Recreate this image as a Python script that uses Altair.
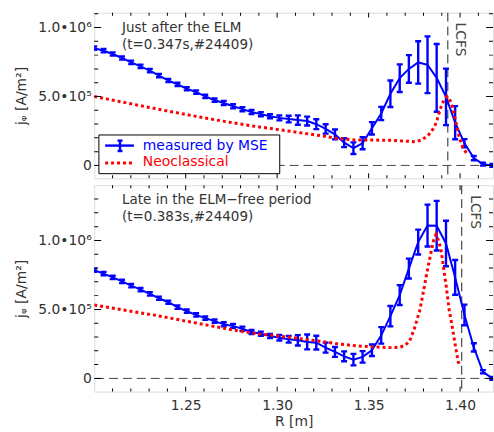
import altair as alt
import pandas as pd

# ---------------- data ----------------
R_MEAS = [1.2000, 1.2051, 1.2101, 1.2152, 1.2202, 1.2253, 1.2304, 1.2354, 1.2405, 1.2455,
          1.2506, 1.2557, 1.2607, 1.2658, 1.2708, 1.2759, 1.2810, 1.2860, 1.2911, 1.2961,
          1.3012, 1.3063, 1.3113, 1.3164, 1.3214, 1.3265, 1.3316, 1.3366, 1.3417, 1.3467,
          1.3518, 1.3569, 1.3619, 1.3670, 1.3720, 1.3771, 1.3822, 1.3872, 1.3923, 1.3973,
          1.4024, 1.4075, 1.4125, 1.4176]

# top panel (just after the ELM), units of 1e6 A/m^2
J_TOP = [0.851, 0.832, 0.808, 0.779, 0.748, 0.719, 0.688, 0.652, 0.616, 0.588,
         0.556, 0.532, 0.501, 0.473, 0.453, 0.429, 0.408, 0.388, 0.372, 0.357,
         0.345, 0.336, 0.329, 0.322, 0.299, 0.265, 0.225, 0.165, 0.125, 0.161,
         0.269, 0.377, 0.520, 0.633, 0.700, 0.747, 0.730, 0.635, 0.497, 0.310,
         0.161, 0.053, 0.009, 0.000]
ERR_TOP = [0.012, 0.012, 0.012, 0.012, 0.012, 0.012, 0.012, 0.012, 0.012, 0.012,
           0.012, 0.012, 0.012, 0.012, 0.015, 0.015, 0.015, 0.015, 0.015, 0.015,
           0.018, 0.024, 0.034, 0.032, 0.036, 0.034, 0.036, 0.032, 0.042, 0.044,
           0.045, 0.048, 0.096, 0.100, 0.100, 0.154, 0.206, 0.246, 0.205, 0.120,
           0.030, 0.015, 0.010, 0.010]

# bottom panel (late in the ELM-free period)
J_BOT = [0.784, 0.760, 0.732, 0.703, 0.672, 0.643, 0.612, 0.581, 0.552, 0.516,
         0.487, 0.460, 0.437, 0.415, 0.392, 0.379, 0.360, 0.336, 0.324, 0.307,
         0.295, 0.283, 0.276, 0.264, 0.259, 0.223, 0.192, 0.160, 0.136, 0.156,
         0.204, 0.312, 0.451, 0.604, 0.796, 0.988, 1.108, 1.107, 0.978, 0.732,
         0.460, 0.225, 0.048, 0.000]
ERR_BOT = [0.012, 0.012, 0.012, 0.012, 0.012, 0.012, 0.012, 0.012, 0.012, 0.012,
           0.012, 0.012, 0.012, 0.012, 0.015, 0.015, 0.015, 0.015, 0.015, 0.015,
           0.020, 0.024, 0.038, 0.054, 0.050, 0.036, 0.036, 0.036, 0.042, 0.042,
           0.042, 0.060, 0.074, 0.072, 0.072, 0.090, 0.152, 0.180, 0.165, 0.126,
           0.075, 0.030, 0.012, 0.010]

# neoclassical curves
R_NEO_TOP = [1.200, 1.220, 1.240, 1.260, 1.274, 1.286, 1.2965, 1.310, 1.3236, 1.3327,
             1.340, 1.3453, 1.353, 1.3616, 1.370, 1.376, 1.379, 1.3824, 1.3842, 1.386,
             1.3874, 1.3887, 1.390, 1.3914, 1.3928, 1.3946, 1.3959, 1.3978, 1.3996, 1.4015,
             1.404]
J_NEO_TOP = [0.500, 0.447, 0.395, 0.345, 0.313, 0.287, 0.268, 0.242, 0.216, 0.196,
             0.187, 0.184, 0.184, 0.182, 0.176, 0.172, 0.185, 0.216, 0.245, 0.280,
             0.330, 0.388, 0.440, 0.480, 0.500, 0.470, 0.420, 0.310, 0.200, 0.130,
             0.080]

R_NEO_BOT = [1.200, 1.234, 1.2738, 1.2875, 1.3056, 1.3236, 1.3345, 1.3435, 1.3526, 1.3616,
             1.367, 1.370, 1.3724, 1.375, 1.3779, 1.380, 1.3815, 1.383, 1.3842, 1.3855,
             1.3868, 1.3882, 1.3896, 1.391, 1.3924, 1.394, 1.3959, 1.3975, 1.399, 1.3998]
J_NEO_BOT = [0.532, 0.456, 0.356, 0.326, 0.300, 0.269, 0.248, 0.236, 0.228, 0.223,
             0.226, 0.240, 0.270, 0.360, 0.490, 0.630, 0.740, 0.840, 0.920, 1.000,
             1.043, 1.000, 0.930, 0.800, 0.670, 0.500, 0.360, 0.230, 0.120, 0.090]

LCFS = [1.3933, 1.4009]
X_DOMAIN = [1.2, 1.418]
Y_DOMAIN_TOP = [-0.0935e6, 1.108e6]
Y_DOMAIN_BOT = [-0.0957e6, 1.40e6]
X_TICKS = [1.21, 1.22, 1.23, 1.24, 1.25, 1.26, 1.27, 1.28, 1.29, 1.30,
           1.31, 1.32, 1.33, 1.34, 1.35, 1.36, 1.37, 1.38, 1.39, 1.40, 1.41]
X_LABELS = [1.25, 1.30, 1.35, 1.40]
Y_TICKS_TOP = [0, 1e5, 2e5, 3e5, 4e5, 5e5, 6e5, 7e5, 8e5, 9e5, 1e6, 1.1e6]
Y_TICKS_BOT = [0, 1e5, 2e5, 3e5, 4e5, 5e5, 6e5, 7e5, 8e5, 9e5, 1e6, 1.1e6, 1.2e6, 1.3e6]
Y_LABELS = [0, 5e5, 1e6]
TEXT_TOP = ["Just after the ELM", "(t=0.347s,#24409)"]
TEXT_BOT = ["Late in the ELM\u2212free period", "(t=0.383s,#24409)"]
LEGEND = ["measured by MSE", "Neoclassical"]

BLUE = "#0000ff"
RED = "#ff0000"
GREY = "#333333"
FONT = "DejaVu Sans"
W = 402


def panel(j, err, rn, jn, lcfs, ydom, yticks, h, texts, bottom, legend, lcfs_dy):
    xs = alt.Scale(domain=X_DOMAIN, nice=False, zero=False)
    ys = alt.Scale(domain=ydom, nice=False, zero=False)
    meas = pd.DataFrame({
        "R": R_MEAS,
        "j": [v * 1e6 for v in j],
        "lo": [(v - e) * 1e6 for v, e in zip(j, err)],
        "hi": [(v + e) * 1e6 for v, e in zip(j, err)],
    })
    neo = pd.DataFrame({"R": rn, "j": [v * 1e6 for v in jn]})

    if bottom:
        xax = alt.Axis(values=X_LABELS, format=".2f", ticks=False, domain=False, grid=False,
                       labelFontSize=14, labelColor=GREY, labelPadding=7, labelFont=FONT,
                       title="R [m]", titleFontSize=14, titleFontWeight="normal",
                       titleColor=GREY, titlePadding=2, titleFont=FONT)
    else:
        xax = None
    yax = alt.Axis(values=Y_LABELS,
                   labelExpr="datum.value == 0 ? '0' : (datum.value == 500000 ? '5.0\u202210\u2075' : '1.0\u202210\u2076')",
                   ticks=False, domain=False, grid=False, labelFontSize=14, labelColor=GREY,
                   labelPadding=3, labelFont=FONT,
                   title="j\u1d69 [A/m\u00b2]", titleFontSize=14, titleFontWeight="normal",
                   titleColor=GREY, titlePadding=9, titleFont=FONT)

    def X(f):
        return alt.X(f, scale=xs)

    def Y(f):
        return alt.Y(f, scale=ys)

    lc = pd.DataFrame({"r": [lcfs], "t": ["LCFS"]})
    lcfs_rule = alt.Chart(lc).mark_rule(color="#222222", strokeWidth=1,
                                        strokeDash=[9, 5]).encode(
        x=alt.X("r:Q", scale=xs, axis=xax))
    zero = alt.Chart(pd.DataFrame({"z": [0]})).mark_rule(
        color="#444444", strokeWidth=1, strokeDash=[9, 5]
    ).encode(y=alt.Y("z:Q", scale=ys, axis=yax))

    base = alt.Chart(meas)
    line = base.mark_line(color=BLUE, strokeWidth=2, clip=True).encode(
        x=X("R:Q"), y=Y("j:Q"))
    bars = base.mark_rule(color=BLUE, strokeWidth=2.4, clip=True).encode(
        x=X("R:Q"), y=Y("lo:Q"), y2="hi:Q")
    caps = base.transform_fold(["lo", "hi"], as_=["k", "v"]).mark_tick(
        color=BLUE, orient="horizontal", size=6, thickness=2.4, clip=True, opacity=1
    ).encode(x=X("R:Q"), y=Y("v:Q"))
    neo_line = alt.Chart(neo).mark_line(color=RED, strokeWidth=3, strokeDash=[3, 3],
                                        clip=True).encode(x=X("R:Q"), y=Y("j:Q"))
    lcfs_text = alt.Chart(lc).mark_text(angle=90, align="left", baseline="alphabetic",
                                        dy=lcfs_dy, fontSize=14, color="#444444",
                                        font=FONT).encode(
        x=X("r:Q"), y=alt.value(10), text="t:N")

    # inward ticks on all four sides
    xt = pd.DataFrame({"v": X_TICKS,
                       "s": [10 if v in X_LABELS else 6 for v in X_TICKS]})
    yt = pd.DataFrame({"v": yticks,
                       "s": [14 if v in Y_LABELS else 8 for v in yticks]})
    tick_layers = []
    for ypos in (0, h):
        tick_layers.append(alt.Chart(xt).mark_tick(color="black", thickness=1, clip=True,
                                                   orient="vertical", opacity=1).encode(
            x=X("v:Q"), y=alt.value(ypos),
            size=alt.Size("s:Q", scale=None, legend=None)))
    for xpos in (0, W):
        tick_layers.append(alt.Chart(yt).mark_tick(color="black", thickness=1, clip=True,
                                                   orient="horizontal", opacity=1).encode(
            y=Y("v:Q"), x=alt.value(xpos),
            size=alt.Size("s:Q", scale=None, legend=None)))

    one = alt.Chart(pd.DataFrame({"a": [0]}))
    ann = []
    for i, t in enumerate(texts):
        ann.append(one.mark_text(align="left", baseline="middle", fontSize=13.6,
                                 color=GREY, font=FONT, text=t).encode(
            x=alt.value(28), y=alt.value(15 + 17.5 * i)))

    layers = [lcfs_rule, zero, line, bars, caps, neo_line] + tick_layers + [lcfs_text] + ann

    if legend:
        leg = [
            one.mark_rect(fill="white", stroke="black", strokeWidth=1).encode(
                x=alt.value(4.7), x2=alt.value(187), y=alt.value(123.3), y2=alt.value(162.3)),
            one.mark_rule(color=BLUE, strokeWidth=2.4).encode(
                x=alt.value(11), x2=alt.value(40), y=alt.value(134)),
            one.mark_rule(color=BLUE, strokeWidth=2.4).encode(
                x=alt.value(26), y=alt.value(129), y2=alt.value(139.5)),
            one.mark_rule(color=BLUE, strokeWidth=2.4).encode(
                x=alt.value(23.5), x2=alt.value(28.5), y=alt.value(129)),
            one.mark_rule(color=BLUE, strokeWidth=2.4).encode(
                x=alt.value(23.5), x2=alt.value(28.5), y=alt.value(139.5)),
            one.mark_rule(color=RED, strokeWidth=3, strokeDash=[3, 3]).encode(
                x=alt.value(11), x2=alt.value(40), y=alt.value(151.5)),
            one.mark_text(align="left", baseline="middle", fontSize=14, color=BLUE,
                          font=FONT, text=legend[0]).encode(x=alt.value(49), y=alt.value(134)),
            one.mark_text(align="left", baseline="middle", fontSize=14, color=RED,
                          font=FONT, text=legend[1]).encode(x=alt.value(49), y=alt.value(151)),
        ]
        layers += leg

    return alt.layer(*layers).properties(width=W, height=h)


top = panel(J_TOP, ERR_TOP, R_NEO_TOP, J_NEO_TOP, LCFS[0], Y_DOMAIN_TOP, Y_TICKS_TOP,
            167, TEXT_TOP, False, LEGEND, -8)
bot = panel(J_BOT, ERR_BOT, R_NEO_BOT, J_NEO_BOT, LCFS[1], Y_DOMAIN_BOT, Y_TICKS_BOT,
            208, TEXT_BOT, True, None, -9.5)

chart = alt.vconcat(top, bot, spacing=5).resolve_scale(
    x="independent", y="independent"
).properties(
    padding={"left": 14, "top": 10, "right": 0, "bottom": 5}
).configure_view(stroke="black", strokeWidth=1).configure(font=FONT, background="white")

chart.save("out.html", embed_options={"renderer": "svg", "actions": False})
